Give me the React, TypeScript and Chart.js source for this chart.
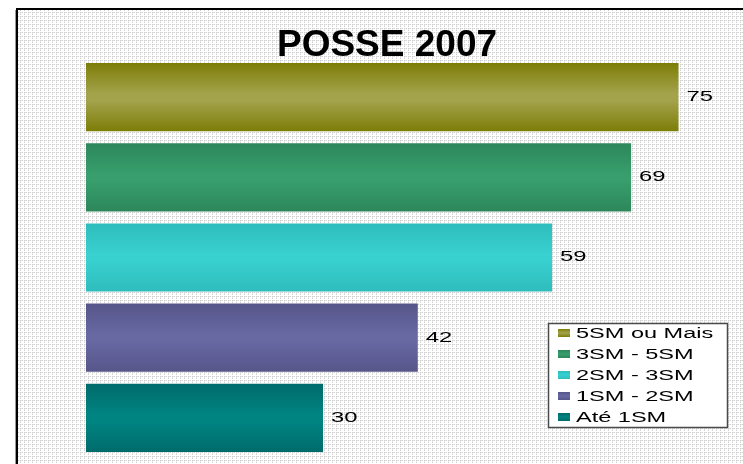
import React, { useEffect, useRef } from "react";
import { Chart, registerables } from "chart.js";

Chart.register(...registerables);

const title = "POSSE 2007";
const categories = ["5SM ou Mais", "3SM - 5SM", "2SM - 3SM", "1SM - 2SM", "Até 1SM"];
const values = [75, 69, 59, 42, 30];
const edgeColors = ["#7d7d08", "#2d875a", "#2fbcbc", "#56568a", "#006b6b"];
const midColors = ["#a3a34c", "#379e6c", "#39d0d0", "#6868a3", "#008482"];

function makePattern(ctx: CanvasRenderingContext2D) {
  const t = document.createElement("canvas");
  t.width = 4;
  t.height = 4;
  const c = t.getContext("2d")!;
  c.fillStyle = "#ffffff";
  c.fillRect(0, 0, 4, 4);
  c.fillStyle = "#d0d0d0";
  c.fillRect(0, 0, 1, 1);
  c.fillRect(2, 0, 1, 1);
  c.fillRect(0, 2, 1, 1);
  c.fillStyle = "#e6e6e6";
  c.fillRect(1, 0, 1, 1);
  c.fillRect(0, 1, 1, 1);
  return ctx.createPattern(t, "repeat");
}

const decorPlugin = {
  id: "decor",
  beforeDraw(chart: any) {
    const ctx = chart.ctx as CanvasRenderingContext2D;
    const W = chart.width;
    const H = chart.height;
    ctx.save();
    ctx.fillStyle = "#ffffff";
    ctx.fillRect(0, 0, W, H);
    const pat = makePattern(ctx);
    if (pat) ctx.fillStyle = pat;
    ctx.fillRect(18, 10, W - 18, H - 10);
    ctx.fillStyle = "#000000";
    ctx.fillRect(16, 8, W - 16, 2);
    ctx.fillRect(16, 8, 2, H - 8);
    ctx.fillStyle = "#9a9a9a";
    ctx.fillRect(15, 10, 1, H - 10);
    ctx.fillStyle = "#000000";
    ctx.font = "bold 37px 'Liberation Sans', Arial, sans-serif";
    ctx.textAlign = "center";
    ctx.textBaseline = "alphabetic";
    ctx.fillText(title, 387, 56);
    ctx.restore();
  },
  afterDraw(chart: any) {
    const ctx = chart.ctx as CanvasRenderingContext2D;
    const xs = chart.scales.x;
    const ys = chart.scales.y;
    ctx.save();
    ctx.fillStyle = "#000000";
    ctx.font = "14px 'Liberation Sans', Arial, sans-serif";
    ctx.textBaseline = "middle";
    ctx.textAlign = "left";
    values.forEach((v, i) => {
      const x = xs.getPixelForValue(v) + 8;
      const y = ys.getPixelForValue(i);
      ctx.save();
      ctx.translate(x, y);
      ctx.scale(1.7, 1);
      ctx.fillText(String(v), 0, 0);
      ctx.restore();
    });
    const bx = 548, by = 323, bw = 179, bh = 104;
    ctx.fillStyle = "#ffffff";
    ctx.fillRect(bx, by, bw, bh);
    ctx.strokeStyle = "#4a4a4a";
    ctx.lineWidth = 1.5;
    ctx.strokeRect(bx + 0.5, by + 0.5, bw, bh);
    ctx.font = "14px 'Liberation Sans', Arial, sans-serif";
    categories.forEach((label, i) => {
      const cy = by + 10 + i * 21;
      const g = ctx.createLinearGradient(0, cy - 4, 0, cy + 4);
      g.addColorStop(0, edgeColors[i]);
      g.addColorStop(0.5, midColors[i]);
      g.addColorStop(1, edgeColors[i]);
      ctx.fillStyle = g;
      ctx.fillRect(558, cy - 4, 12, 8);
      ctx.fillStyle = "#000000";
      ctx.save();
      ctx.translate(576, cy + 1);
      ctx.scale(1.68, 1);
      ctx.fillText(label, 0, 0);
      ctx.restore();
    });
    ctx.restore();
  },
};

function barGradient(i: number) {
  return (c: any) => {
    const chart = c.chart;
    const ys = chart.scales?.y;
    if (!chart.chartArea || !ys) return midColors[i];
    const center = ys.getPixelForValue(i);
    const band = Math.abs(ys.getPixelForValue(1) - ys.getPixelForValue(0));
    const half = (band * 0.85) / 2;
    const g = chart.ctx.createLinearGradient(0, center - half, 0, center + half);
    g.addColorStop(0, edgeColors[i]);
    g.addColorStop(0.45, midColors[i]);
    g.addColorStop(0.55, midColors[i]);
    g.addColorStop(1, edgeColors[i]);
    return g;
  };
}

export default function App() {
  const ref = useRef<HTMLCanvasElement | null>(null);
  useEffect(() => {
    if (!ref.current) return;
    const chart = new Chart(ref.current, {
      type: "bar",
      data: {
        labels: categories,
        datasets: categories.map((label, i) => ({
          label,
          data: categories.map((_, j) => (j === i ? values[i] : null)),
          backgroundColor: barGradient(i),
          borderWidth: 0,
          grouped: false,
          barPercentage: 0.85,
          categoryPercentage: 1,
        })),
      },
      options: {
        indexAxis: "y",
        responsive: false,
        animation: false,
        devicePixelRatio: 1,
        layout: { padding: { left: 86, right: 25, top: 57, bottom: 6 } },
        plugins: {
          legend: { display: false },
          title: { display: false },
          tooltip: { enabled: false },
        },
        scales: {
          x: { display: false, min: 0, max: 80 },
          y: { display: false },
        },
      },
      plugins: [decorPlugin],
    } as any);
    return () => chart.destroy();
  }, []);
  return (
    <div style={{ position: "absolute", left: 0, top: 0, width: 743, height: 464 }}>
      <canvas ref={ref} width={743} height={464} />
    </div>
  );
}
